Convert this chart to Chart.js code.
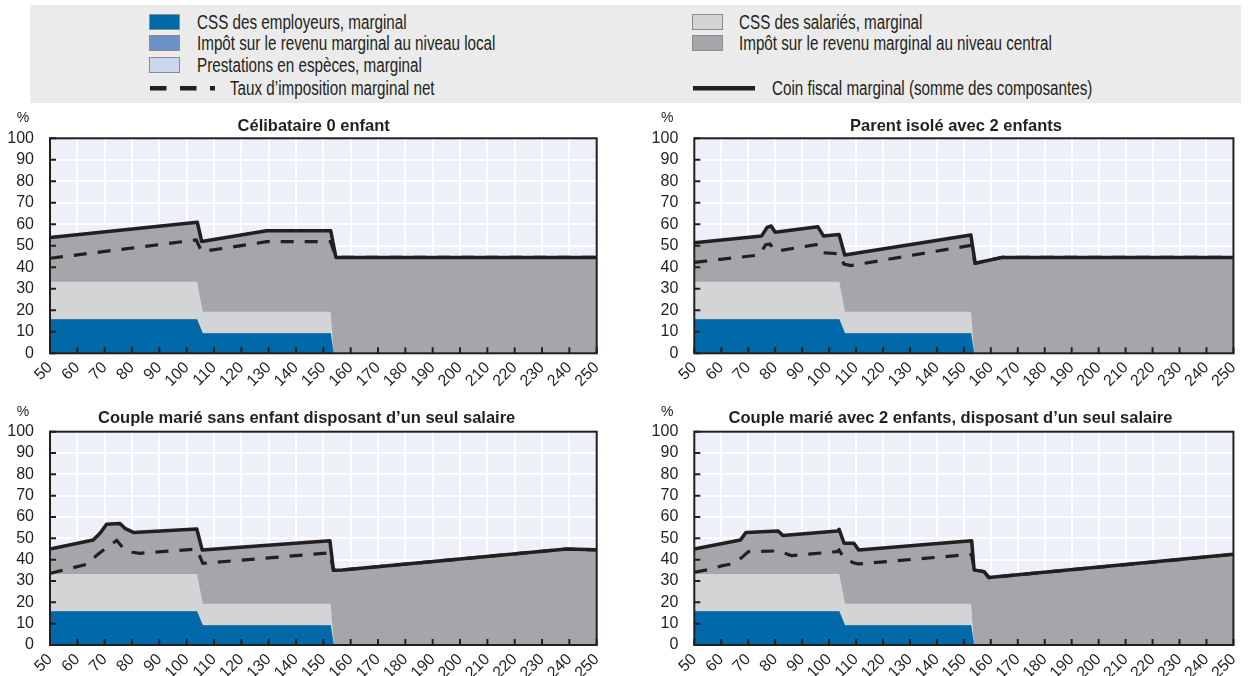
<!DOCTYPE html>
<html>
<head>
<meta charset="utf-8">
<script src="https://cdn.jsdelivr.net/npm/chart.js@4.4.0/dist/chart.umd.min.js"></script>
<style>
body { margin: 0; width: 1252px; height: 676px; background: #fff; position: relative; overflow: hidden;
       font-family: 'Liberation Sans', Arial, sans-serif; color: #231f20; }
#legend { position: absolute; left: 30px; top: 5px; width: 1211px; height: 98px; background: #ebebeb; }
.txt { position: absolute; font-size: 19.5px; line-height: 22px; white-space: nowrap;
       transform: scaleX(0.78); transform-origin: 0 50%; }
.sw { position: absolute; width: 31px; height: 16px; border: 1px solid #8c8c8c; box-sizing: border-box; }
.panel { position: absolute; }
</style>
</head>
<body>
<div id="legend"></div>
<div class="txt" style="left:197px;top:11px">CSS des employeurs, marginal</div>
<div class="txt" style="left:197px;top:32px">Impôt sur le revenu marginal au niveau local</div>
<div class="txt" style="left:197px;top:54px">Prestations en espèces, marginal</div>
<div class="txt" style="left:230px;top:77px">Taux d’imposition marginal net</div>
<div class="txt" style="left:739px;top:11px">CSS des salariés, marginal</div>
<div class="txt" style="left:739px;top:32px">Impôt sur le revenu marginal au niveau central</div>
<div class="txt" style="left:772px;top:77px">Coin fiscal marginal (somme des composantes)</div>
<div class="sw" style="left:149px;top:14px;background:#0069aa"></div>
<div class="sw" style="left:149px;top:35px;background:#6a92c6"></div>
<div class="sw" style="left:149px;top:57px;background:#cad7ec"></div>
<div class="sw" style="left:692px;top:14px;background:#d3d4d6"></div>
<div class="sw" style="left:692px;top:35px;background:#a5a6a9"></div>
<svg style="position:absolute;left:0;top:0" width="1252" height="103">
  <line x1="150" y1="88.3" x2="215" y2="88.3" stroke="#231f20" stroke-width="4.5" stroke-dasharray="16.5 13.5"/>
  <line x1="693" y1="88.3" x2="755" y2="88.3" stroke="#231f20" stroke-width="4.5"/>
</svg>

<canvas id="c1" class="panel" style="left:0;top:103px"></canvas>
<canvas id="c2" class="panel" style="left:626px;top:103px"></canvas>
<canvas id="c3" class="panel" style="left:0;top:395px"></canvas>
<canvas id="c4" class="panel" style="left:626px;top:395px"></canvas>

<script>
// salaire brut en % du salaire moyen
var cssX = [50, 103.8, 105.9, 152.7, 153.8, 250];
var employerCss = [15.8, 15.8, 9.3, 9.3, 0, 0];
var employeeCss = [17.5, 17.5, 10, 10, 0, 0];

// Célibataire 0 enfant
var totX1 = [50, 103.9, 105.5, 129.3, 152.7, 154.6, 250];
var tot1 = [53.8, 60.9, 52.0, 57.0, 57.0, 44.6, 44.6];
var netX1 = [50, 103.5, 105.5, 129.3, 152.7, 154.6, 250];
var net1 = [44.2, 52.7, 47.3, 51.9, 51.9, 44.6, 44.6];

// Parent isolé avec 2 enfants
var totX2 = [50, 75, 77, 78.5, 80, 95.8, 97.9, 103.7, 105.8, 152.6, 154.2, 164.2, 250];
var tot2 = [51.4, 54.6, 58.6, 59.2, 56.3, 58.9, 54.6, 55.3, 45.7, 55.0, 41.9, 44.6, 44.6];
var netX2 = [50, 74, 76.5, 78, 80.5, 95.8, 97.5, 103.7, 105.5, 108, 152.6, 154.2, 164.2, 250];
var net2 = [42.3, 45.7, 50.5, 50.8, 47.5, 50.7, 46.8, 46.3, 41.5, 40.8, 50.2, 41.9, 44.6, 44.6];

// Couple marié sans enfant, un seul salaire
var totX3 = [50, 65.8, 68.3, 70.7, 75.6, 77.4, 80.5, 103.7, 105.7, 152.4, 153.7, 157, 239, 250];
var tot3 = [45.0, 49.2, 52.4, 56.6, 57.0, 54.7, 52.8, 54.4, 44.5, 48.9, 35.0, 35.2, 45.0, 44.6];
var netX3 = [50, 64, 67, 71, 74.4, 77.4, 80, 83, 103.7, 105.9, 152.4, 153.7, 157, 239, 250];
var net3 = [33.6, 38.0, 42.0, 46.0, 49.0, 44.5, 43.5, 43.0, 45.0, 38.3, 43.2, 35.0, 35.2, 45.0, 44.6];

// Couple marié avec 2 enfants, un seul salaire
var totX4 = [50, 67.1, 69.2, 81.1, 82.9, 103.1, 103.7, 105.6, 109.2, 111, 152.9, 153.8, 157.5, 159.3, 250];
var tot4 = [45.0, 49.2, 52.8, 53.4, 51.3, 53.4, 54.2, 47.7, 47.7, 44.5, 48.9, 35.2, 34.4, 31.6, 42.5];
var netX4 = [50, 56, 60.4, 64, 67.7, 70.1, 81, 86, 103, 103.7, 105.6, 109.2, 111, 152.9, 153.8, 157.5, 159.3, 250];
var net4 = [34.1, 35.5, 37.2, 38.0, 41.1, 43.8, 44.1, 41.9, 43.8, 44.5, 40.6, 38.5, 38.0, 42.5, 35.2, 34.4, 31.6, 42.5];

var titles = [
    "Célibataire 0 enfant",
    "Parent isolé avec 2 enfants",
    "Couple marié sans enfant disposant d’un seul salaire",
    "Couple marié avec 2 enfants, disposant d’un seul salaire"
];

var FONT = "'Liberation Sans', Arial, sans-serif";
var INK = '#231f20';

function pts(xs, ys) {
    return xs.map(function (x, i) { return { x: x, y: ys[i] }; });
}

var panelDeco = {
    id: 'panelDeco',
    beforeDraw: function (chart) {
        var a = chart.chartArea, ctx = chart.ctx;
        ctx.save();
        ctx.fillStyle = '#edf0f8';
        ctx.fillRect(a.left, a.top, a.right - a.left, a.bottom - a.top);
        ctx.restore();
    },
    afterDraw: function (chart) {
        var a = chart.chartArea, ctx = chart.ctx, o = chart.options.plugins.panelDeco;
        ctx.save();
        ctx.strokeStyle = INK;
        ctx.lineWidth = 2;
        ctx.beginPath();
        chart.scales.x.ticks.forEach(function (t) {
            var px = chart.scales.x.getPixelForValue(t.value);
            ctx.moveTo(px, a.bottom);
            ctx.lineTo(px, a.bottom - 6);
        });
        chart.scales.y.ticks.forEach(function (t) {
            var py = chart.scales.y.getPixelForValue(t.value);
            ctx.moveTo(a.left, py);
            ctx.lineTo(a.left + 6, py);
        });
        ctx.stroke();
        ctx.strokeRect(a.left, a.top, a.right - a.left, a.bottom - a.top);
        ctx.fillStyle = INK;
        ctx.textAlign = 'center';
        ctx.textBaseline = 'alphabetic';
        ctx.font = "bold 16.5px " + FONT;
        ctx.fillText(o.title, o.titleX, o.titleY);
        ctx.font = "14px " + FONT;
        ctx.textBaseline = 'middle';
        ctx.fillText('%', a.left - 27, a.top - 20);
        ctx.restore();
    }
};

function makePanel(id, w, h, area, deco, totX, tot, netX, net) {
    var cv = document.getElementById(id);
    cv.width = w; cv.height = h;
    cv.style.width = w + 'px'; cv.style.height = h + 'px';
    var tickFont = { family: FONT, size: 16 };
    return new Chart(cv, {
        type: 'line',
        data: {
            datasets: [{
                label: 'Taux d’imposition marginal net',
                data: pts(netX, net),
                stack: 'net',
                borderColor: INK,
                borderWidth: 3.2,
                borderDash: [13, 11],
                fill: false,
                pointRadius: 0
            }, {
                label: 'CSS des employeurs, marginal',
                data: pts(cssX, employerCss),
                stack: 'css',
                backgroundColor: '#0069aa',
                borderColor: 'rgba(0,0,0,0)',
                fill: 'origin',
                pointRadius: 0
            }, {
                label: 'CSS des salariés, marginal',
                data: pts(cssX, employeeCss),
                stack: 'css',
                backgroundColor: '#d3d4d6',
                borderColor: 'rgba(0,0,0,0)',
                fill: '-1',
                pointRadius: 0
            }, {
                label: 'Coin fiscal marginal (somme des composantes)',
                data: pts(totX, tot),
                stack: 'tot',
                borderColor: INK,
                borderWidth: 3.5,
                borderJoinStyle: 'round',
                backgroundColor: '#a5a6a9',
                fill: 'origin',
                pointRadius: 0
            }]
        },
        options: {
            responsive: false,
            animation: false,
            events: [],
            layout: { padding: { left: 0, top: area.top, right: w - area.right, bottom: 0 } },
            scales: {
                x: {
                    type: 'linear',
                    min: 50, max: 250,
                    grid: { color: '#ffffff', lineWidth: 2, drawTicks: false },
                    border: { display: false },
                    ticks: { stepSize: 10, autoSkip: false, minRotation: 45, maxRotation: 45,
                             padding: 5, color: INK, font: tickFont },
                    afterFit: function (s) { s.height = h - area.bottom; }
                },
                y: {
                    stacked: true,
                    min: 0, max: 100,
                    grid: { color: '#ffffff', lineWidth: 2, drawTicks: false },
                    border: { display: false },
                    ticks: { stepSize: 10, autoSkip: false, padding: 16, color: INK, font: tickFont },
                    afterFit: function (s) { s.width = area.left; }
                }
            },
            plugins: {
                legend: { display: false },
                tooltip: { enabled: false },
                panelDeco: deco
            }
        },
        plugins: [panelDeco]
    });
}

makePanel('c1', 626, 292, { left: 50, right: 596.7, top: 35.3, bottom: 250.3 },
    { title: titles[0], titleX: 313.7, titleY: 27.7 }, totX1, tot1, netX1, net1);
makePanel('c2', 626, 292, { left: 68.3, right: 614.3, top: 35.3, bottom: 250.3 },
    { title: titles[1], titleX: 330, titleY: 27.7 }, totX2, tot2, netX2, net2);
makePanel('c3', 626, 281, { left: 50, right: 596.7, top: 36.7, bottom: 250 },
    { title: titles[2], titleX: 306.7, titleY: 28.3 }, totX3, tot3, netX3, net3);
makePanel('c4', 626, 281, { left: 68.3, right: 614.3, top: 36.7, bottom: 250 },
    { title: titles[3], titleX: 324.5, titleY: 28.3 }, totX4, tot4, netX4, net4);
</script>
</body>
</html>
